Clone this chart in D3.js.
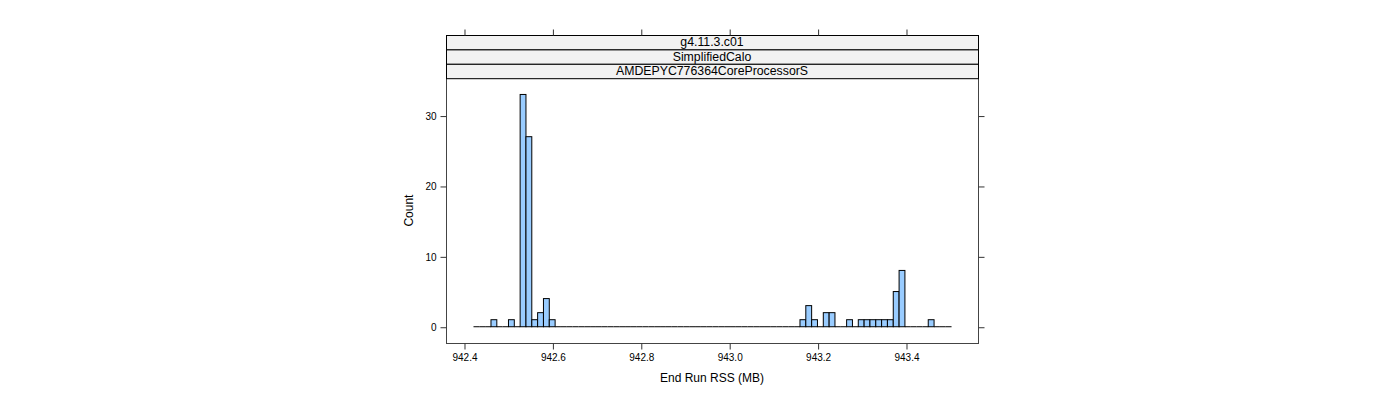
<!DOCTYPE html>
<html>
<head>
<meta charset="utf-8">
<script src="https://cdn.jsdelivr.net/npm/d3@7"></script>
<style>
  body { margin: 0; background: #fff; }
  svg { display: block; font-family: "Liberation Sans", Arial, sans-serif; }
</style>
</head>
<body>
<svg id="chart" width="1400" height="400"></svg>
<script>
// ---- data ----
const stripLabels = ["g4.11.3.c01", "SimplifiedCalo", "AMDEPYC776364CoreProcessorS"];
const binStart = 942.4215;
const binWidth = 0.01319;
const counts = [
  0, 0, 0, 1, 0, 0, 1, 0, 33, 27,
  1, 2, 4, 1, 0, 0, 0, 0, 0, 0,
  0, 0, 0, 0, 0, 0, 0, 0, 0, 0,
  0, 0, 0, 0, 0, 0, 0, 0, 0, 0,
  0, 0, 0, 0, 0, 0, 0, 0, 0, 0,
  0, 0, 0, 0, 0, 0, 1, 3, 1, 0,
  2, 2, 0, 0, 1, 0, 1, 1, 1, 1,
  1, 1, 5, 8, 0, 0, 0, 0, 1, 0,
  0, 0
];
const xTicks = [942.4, 942.6, 942.8, 943.0, 943.2, 943.4];
const yTicks = [0, 10, 20, 30];
const xDomain = [942.3593, 943.5629];
const yDomain = [-2.31, 35.31];
const xTitle = "End Run RSS (MB)";
const yTitle = "Count";

// ---- layout ----
const panelL = 446, panelR = 978, panelB = 343;
const stripTop = 35, stripH = 14.4;
const plotTop = stripTop + stripH * stripLabels.length;

const svg = d3.select("#chart");
const x = d3.scaleLinear().domain(xDomain).range([panelL, panelR]);
const y = d3.scaleLinear().domain(yDomain).range([panelB, plotTop]);

const bins = counts.map((c, i) => ({ x0: binStart + i * binWidth, x1: binStart + (i + 1) * binWidth, c }));

// zero-height bins drawn as a baseline (like lattice's degenerate rectangles)
svg.append("g").selectAll("line").data(bins.filter(d => d.c === 0)).join("line")
  .attr("x1", d => x(d.x0)).attr("x2", d => x(d.x1))
  .attr("y1", y(0)).attr("y2", y(0))
  .attr("stroke", "#000").attr("stroke-width", 1);

// bars
svg.append("g").selectAll("rect").data(bins.filter(d => d.c > 0)).join("rect")
  .attr("x", d => x(d.x0))
  .attr("width", d => x(d.x1) - x(d.x0))
  .attr("y", d => y(d.c))
  .attr("height", d => y(0) - y(d.c))
  .attr("fill", "#99ccff")
  .attr("stroke", "#000")
  .attr("stroke-width", 1);

// panel border
svg.append("rect")
  .attr("x", panelL + 0.5).attr("y", plotTop)
  .attr("width", panelR - panelL).attr("height", panelB - plotTop + 0.5)
  .attr("fill", "none").attr("stroke", "#444").attr("stroke-width", 1);

// strips
stripLabels.forEach((lab, i) => {
  const sy = stripTop + i * stripH;
  svg.append("rect")
    .attr("x", panelL + 0.5).attr("y", sy + 0.5)
    .attr("width", panelR - panelL).attr("height", stripH)
    .attr("fill", "#f2f2f2").attr("stroke", "#000").attr("stroke-width", 1);
  svg.append("text")
    .attr("x", (panelL + panelR) / 2).attr("y", sy + stripH / 2 + 1)
    .attr("text-anchor", "middle").attr("dominant-baseline", "middle")
    .attr("font-size", 12.3).attr("fill", "#000").text(lab);
});

// axes
const axBottom = d3.axisBottom(x).tickValues(xTicks).tickFormat(d3.format(".1f")).tickSize(6).tickPadding(4);
const gb = svg.append("g").attr("transform", `translate(0.5,${panelB + 0.5})`).call(axBottom);
const axTop = d3.axisTop(x).tickValues(xTicks).tickFormat("").tickSize(6);
const gt = svg.append("g").attr("transform", `translate(0.5,${stripTop + 0.5})`).call(axTop);
const axLeft = d3.axisLeft(y).tickValues(yTicks).tickSize(6).tickPadding(4);
const gl = svg.append("g").attr("transform", `translate(${panelL + 0.5},0.5)`).call(axLeft);
const axRight = d3.axisRight(y).tickValues(yTicks).tickFormat("").tickSize(6);
const gr = svg.append("g").attr("transform", `translate(${panelR + 0.5},0.5)`).call(axRight);

[gb, gt, gl, gr].forEach(g => {
  g.select(".domain").remove();
  g.selectAll(".tick line").attr("stroke", "#333");
  g.selectAll(".tick text").attr("font-size", 10).attr("fill", "#000")
    .attr("font-family", "'Liberation Sans', Arial, sans-serif");
});

// titles
svg.append("text")
  .attr("x", (panelL + panelR) / 2).attr("y", 382)
  .attr("text-anchor", "middle").attr("font-size", 12).attr("fill", "#000")
  .text(xTitle);
svg.append("text")
  .attr("transform", `translate(413,${(plotTop + panelB) / 2}) rotate(-90)`)
  .attr("text-anchor", "middle").attr("font-size", 12).attr("fill", "#000")
  .text(yTitle);
</script>
</body>
</html>
